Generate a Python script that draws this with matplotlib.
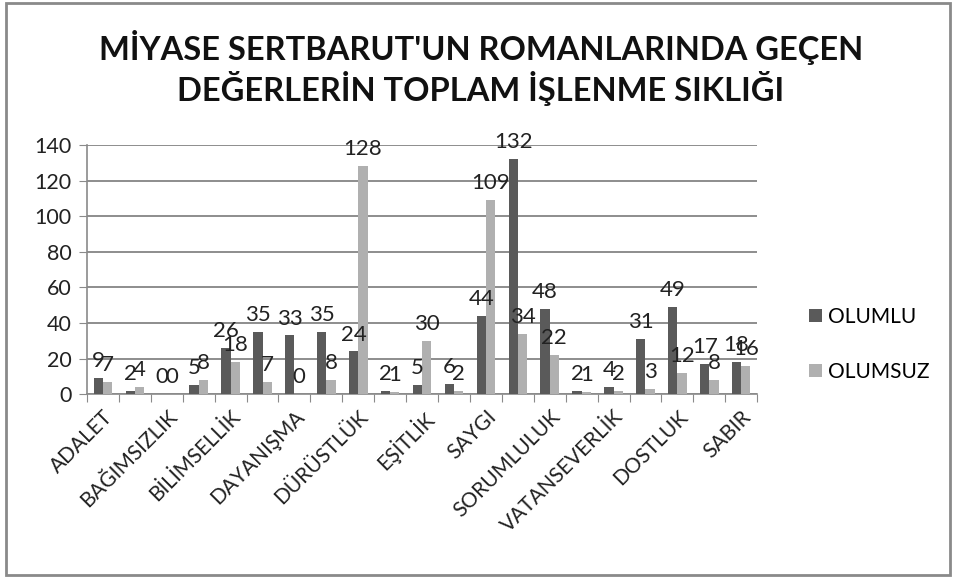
import numpy as np
import matplotlib.pyplot as plt
from matplotlib.patches import Rectangle

plt.rcParams['font.family'] = ['Lato', 'DejaVu Sans']

# 21 kategori; Excel her ikinci etiketi gösteriyor
etiketler = ["ADALET", "", "BAĞIMSIZLIK", "", "BİLİMSELLİK", "", "DAYANIŞMA", "",
             "DÜRÜSTLÜK", "", "EŞİTLİK", "", "SAYGI", "", "SORUMLULUK", "",
             "VATANSEVERLİK", "", "DOSTLUK", "", "SABIR"]
olumlu = [9, 2, 0, 5, 26, 35, 33, 35, 24, 2, 5, 6, 44, 132, 48, 2, 4, 31, 49, 17, 18]
olumsuz = [7, 4, 0, 8, 18, 7, 0, 8, 128, 1, 30, 2, 109, 34, 22, 1, 2, 3, 12, 8, 16]

renk_olumlu = "#5a5a5a"
renk_olumsuz = "#b0b0b0"

fig = plt.figure(figsize=(9.56, 5.78), dpi=100)
ax = fig.add_axes([0.091, 0.318, 0.701, 0.431])

x = np.arange(len(etiketler))
w = 0.29
b1 = ax.bar(x - w / 2, olumlu, w, color=renk_olumlu, label="OLUMLU", zorder=3)
b2 = ax.bar(x + w / 2, olumsuz, w, color=renk_olumsuz, label="OLUMSUZ", zorder=3)
ax.bar_label(b1, padding=5, fontsize=16, color="#222222", zorder=4)
ax.bar_label(b2, padding=5, fontsize=16, color="#222222", zorder=4)

ax.set_xlim(-0.5, len(etiketler) - 0.5)
ax.set_ylim(0, 140)
ax.set_yticks(range(0, 141, 20))
ax.yaxis.grid(True, color="#7a7a7a", linewidth=1.2, zorder=0)
ax.tick_params(axis="y", labelsize=15.5, length=6, color="#8a8a8a", pad=5,
               labelcolor="#222222")

# tick'ler kategori sınırlarında, etiketler ortada
ax.set_xticks(np.arange(-0.5, len(etiketler), 1))
ax.set_xticklabels([])
ax.tick_params(axis="x", which="major", length=6, color="#8a8a8a")
ax.set_xticks(x, minor=True)
ax.set_xticklabels(etiketler, minor=True, rotation=45, ha="right",
                   rotation_mode="anchor", fontsize=15, color="#222222")
ax.tick_params(axis="x", which="minor", length=0, pad=9)

for s in ["top", "right"]:
    ax.spines[s].set_visible(False)
for s in ["left", "bottom"]:
    ax.spines[s].set_color("#8a8a8a")
    ax.spines[s].set_linewidth(1.2)

ax.legend(loc="center left", bbox_to_anchor=(1.05, 0.2), frameon=False,
          fontsize=15, handlelength=0.6, handleheight=0.6, handletextpad=0.3,
          labelspacing=1.7)

fig.text(0.503, 0.882, "MİYASE SERTBARUT'UN ROMANLARINDA GEÇEN\nDEĞERLERİN TOPLAM İŞLENME SIKLIĞI",
         ha="center", va="center", fontsize=23.5, fontweight="bold",
         linespacing=1.2, color="#111111")

fig.patches.append(Rectangle((0.006, 0.006), 0.988, 0.988, transform=fig.transFigure,
                             fill=False, edgecolor="#8a8a8a", linewidth=2))

fig.savefig("out.png", dpi=100)
